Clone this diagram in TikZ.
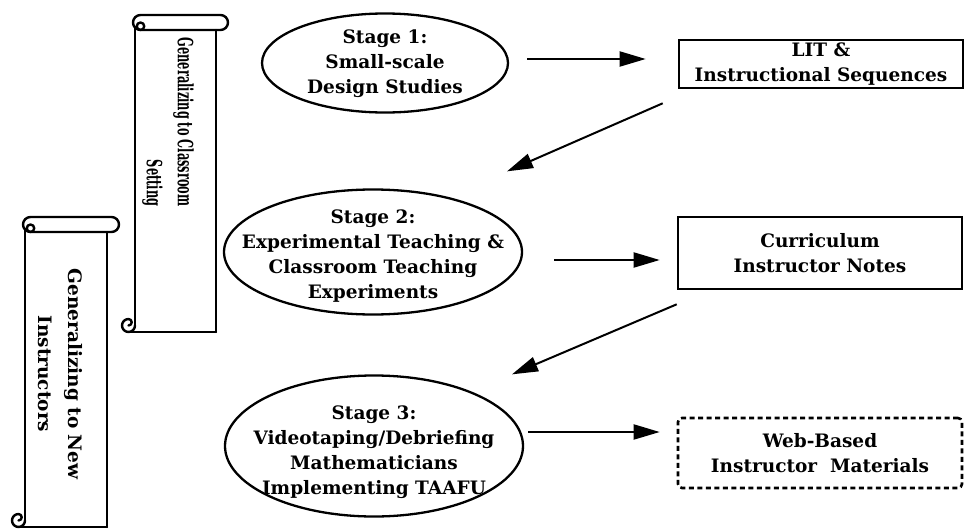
\documentclass[tikz,border=0pt]{standalone}
\usepackage{fontspec}
\setmainfont{DejaVu Serif}
\newfontfamily\narrowserif{DejaVu Serif}[FakeStretch=0.54]
\usetikzlibrary{arrows.meta,shapes.geometric,calc}

\tikzset{
  stage/.style={ellipse, draw, line width=2.3pt, inner sep=0pt},
  stagetext/.style={align=center, inner sep=0pt,
    font=\bfseries\fontsize{18.5}{25}\selectfont},
  product/.style={draw, line width=2.6pt, align=center, inner sep=0pt,
    minimum width=284pt, font=\bfseries\fontsize{18.5}{25}\selectfont},
  flow/.style={line width=2pt, -{Triangle[length=26pt,width=15pt]}},
  rollline/.style={line width=2.4pt, line cap=round, line join=round},
  rolltext/.style={rotate=-90, inner sep=0pt, font=\bfseries\fontsize{18.5}{30}\selectfont},
}

% vertical scroll banner: #1 left edge, #2 right edge, #3 top of roll, #4 bottom edge
\newcommand\scrollbanner[4]{%
  % rolled top
  \draw[rollline] (#1+5.5,#3) -- (#2+4.5,#3)
      arc[start angle=-90,end angle=90,radius=7.5]
      -- (#1+5.5,#3+15) arc[start angle=90,end angle=270,radius=7.5];
  \draw[rollline] (#1+5.5,#3+11.25) circle[radius=3.75];
  % sides
  \draw[rollline] (#1,#3+12) -- (#1,#4-6.5);
  \draw[rollline] (#2,#3+15) -- (#2,#4);
  % rolled bottom
  \draw[rollline] (#1,#4-6.5) arc[start angle=0,end angle=270,radius=6.5]
      arc[start angle=-90,end angle=90,radius=3.25];
  \draw[rollline] (#1-6.5,#4) -- (#2,#4);
}

\begin{document}
\begin{tikzpicture}[x=1pt,y=1pt,yscale=-1]
\useasboundingbox (0,0) rectangle (964,530);

% banners
\scrollbanner{135}{216}{15}{332}
\scrollbanner{25}{107}{217}{527}
\node[rolltext, align=right, font=\narrowserif\bfseries\fontsize{21}{31}\selectfont]
  (classroom) at (168,122) {Generalizing to Classroom\\Setting};
\node[rolltext, align=center] (newinstr) at (60,374) {Generalizing to New\\Instructors};

% stages
\node[stage, minimum width=246pt, minimum height=99pt] (s1) at (385,63) {};
\node[stage, minimum width=298pt, minimum height=125pt] (s2) at (373,252) {};
\node[stage, minimum width=298pt, minimum height=141pt] (s3) at (374,446) {};
\node[stagetext] (t1) at ($(s1.center)+(0,1)$) {Stage 1:\\Small-scale\\Design Studies};
\node[stagetext] (t2) at ($(s2.center)+(0,4)$)
  {Stage 2:\\Experimental Teaching \&\\Classroom Teaching\\Experiments};
\node[stagetext] (t3) at ($(s3.center)+(0,6)$)
  {Stage 3:\\Videotaping/Debriefing\\Mathematicians\\Implementing TAAFU};

% products
\node[product, minimum height=48pt] (p1) at (821,64) {LIT \&\\Instructional Sequences};
\node[product, minimum height=72pt] (p2) at (820,253) {Curriculum\\Instructor Notes};
\node[product, minimum height=70pt, dashed, dash pattern=on 5pt off 3.5pt,
  rounded corners=4pt] (p3) at (820,453) {Web-Based\\Instructor\ \ Materials};

% connectors
\draw[flow] ($(s1.east)+(18,-4)$) -- ($(p1.west)+(-32,-5)$);
\draw[flow] ($(p1.south west)+(-15,14)$) -- ($(s2.north)+(134,-17)$);
\draw[flow] ($(s2.east)+(31,8)$) -- ($(p2.west)+(-17,7)$);
\draw[flow] ($(p2.south west)+(0,14)$) -- ($(s3.north)+(138,0)$);
\draw[flow] ($(s3.east)+(4,-14)$) -- ($(p3.west)+(-17,-21)$);
\end{tikzpicture}
\end{document}
